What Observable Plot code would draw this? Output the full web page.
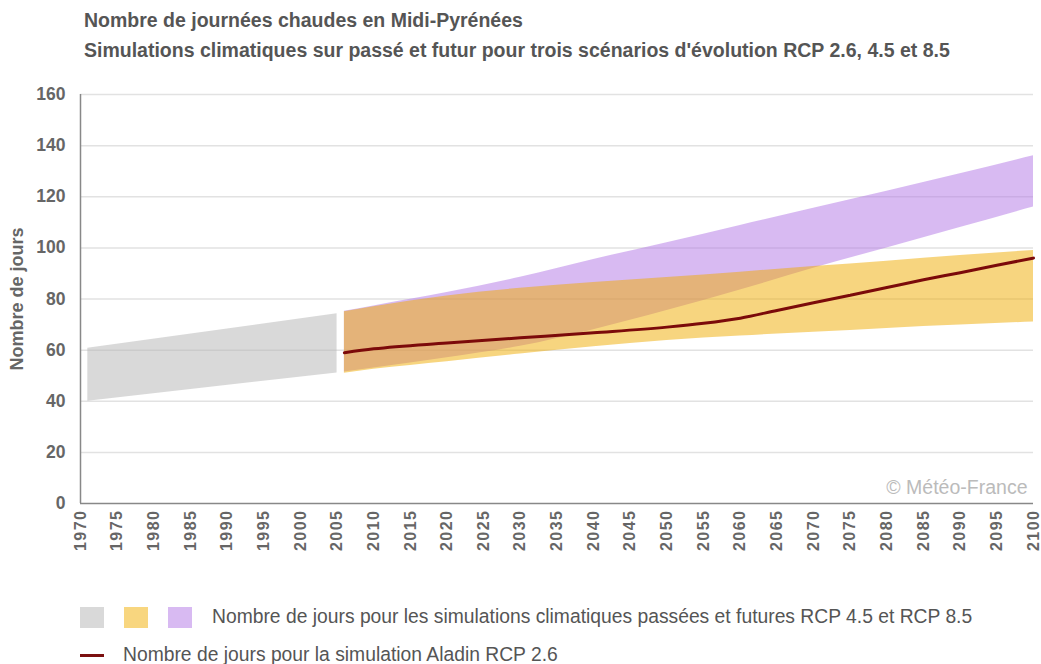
<!DOCTYPE html>
<html>
<head>
<meta charset="utf-8">
<script src="https://cdn.jsdelivr.net/npm/d3@7"></script>
<script src="https://cdn.jsdelivr.net/npm/@observablehq/plot@0.6"></script>
<style>
  html, body { margin: 0; padding: 0; background: #fff; }
  #wrap { position: relative; width: 1041px; height: 664px; font-family: "Liberation Sans", Arial, sans-serif; overflow: hidden; }
  .title { position: absolute; left: 84px; font-weight: bold; font-size: 19.5px; line-height: 22px; color: #555; white-space: nowrap; }
  #chart { position: absolute; left: 0; top: 80px; }
  .leg { position: absolute; font-size: 19.3px; line-height: 22px; color: #555; white-space: nowrap; }
  .sw { position: absolute; width: 24px; height: 21px; }
  #chart g[aria-label="x-axis tick label"] { font-size: 16px; letter-spacing: 1.5px; }
</style>
</head>
<body>
<div id="wrap">
  <div class="title" style="top:9px">Nombre de journées chaudes en Midi-Pyrénées</div>
  <div class="title" style="top:39px">Simulations climatiques sur passé et futur pour trois scénarios d'évolution RCP 2.6, 4.5 et 8.5</div>
  <div id="chart"></div>
  <div class="sw" style="left:80px;top:607px;background:#d9d9d9"></div>
  <div class="sw" style="left:124px;top:607px;background:#f8d67f"></div>
  <div class="sw" style="left:168px;top:607px;background:#d8baf2"></div>
  <div class="leg" style="left:212px;top:606px">Nombre de jours pour les simulations climatiques passées et futures RCP 4.5 et RCP 8.5</div>
  <div style="position:absolute;left:80px;top:654px;width:24px;height:3px;background:#7b1010"></div>
  <div class="leg" style="left:123px;top:644px">Nombre de jours pour la simulation Aladin RCP 2.6</div>
</div>
<script>
// Past simulations (grey band)
const pastYears = [1971, 2005];
const pastLow = [40, 51.1];
const pastHigh = [60.7, 74.2];

// Future simulations
const futureYears = [2006, 2010, 2020, 2030, 2040, 2050, 2060, 2070, 2080, 2090, 2100];
const rcp45Low  = [51, 52.5, 55.5, 58.5, 61.3, 63.8, 65.5, 67, 68.5, 69.8, 71];
const rcp45High = [75, 77, 81.2, 84.2, 86.5, 88.4, 90.5, 92.7, 94.8, 97, 99];
const rcp85Low  = [51.4, 53, 57, 61.5, 68, 75.5, 83.5, 92, 100, 108, 116];
const rcp85High = [75.2, 77.3, 82.5, 88.5, 95.5, 102, 108.8, 115.5, 122.2, 129, 136];

// Aladin RCP 2.6
const aladinYears  = [2006, 2010, 2020, 2030, 2040, 2050, 2055, 2060, 2065, 2070, 2075, 2080, 2085, 2090, 2095, 2100];
const aladinValues = [59, 60.5, 62.8, 64.8, 66.8, 69, 70.5, 72.5, 75.5, 78.5, 81.5, 84.5, 87.5, 90.3, 93.2, 96];

const yTicks = [0, 20, 40, 60, 80, 100, 120, 140, 160];
const xTicks = d3.range(1970, 2101, 5);

const past = pastYears.map((year, i) => ({year, low: pastLow[i], high: pastHigh[i]}));
const r45 = futureYears.map((year, i) => ({year, low: rcp45Low[i], high: rcp45High[i]}));
const r85 = futureYears.map((year, i) => ({year, low: rcp85Low[i], high: rcp85High[i]}));
const aladin = aladinYears.map((year, i) => ({year, value: aladinValues[i]}));

const chart = Plot.plot({
  width: 1041,
  height: 473,
  marginLeft: 80,
  marginRight: 8,
  marginTop: 14,
  marginBottom: 50,
  style: {fontFamily: '"Liberation Sans", Arial, sans-serif', fontWeight: "bold", fontSize: "17.5px", color: "#666", background: "#fff"},
  x: {domain: [1970, 2100]},
  y: {domain: [0, 160]},
  marks: [
    Plot.ruleY(yTicks.filter(d => d > 0), {stroke: "#e2e2e2", strokeWidth: 1.5}),
    Plot.areaY(past, {x: "year", y1: "low", y2: "high", fill: "#b3b3b3", fillOpacity: 0.5}),
    Plot.areaY(r85, {x: "year", y1: "low", y2: "high", fill: "#b175e5", fillOpacity: 0.5, curve: "monotone-x"}),
    Plot.areaY(r45, {x: "year", y1: "low", y2: "high", fill: "#efab00", fillOpacity: 0.5, curve: "monotone-x"}),
    Plot.line(aladin, {x: "year", y: "value", stroke: "#7b0a0a", strokeWidth: 3, curve: "monotone-x"}),
    Plot.axisY({ticks: yTicks, tickSize: 0, tickPadding: 15, label: null}),
    Plot.axisX({ticks: xTicks, tickFormat: d => String(d), tickRotate: -90, tickSize: 0, tickPadding: 6, label: null}),
    Plot.ruleX([1970], {stroke: "#888", strokeWidth: 1.5}),
    Plot.ruleY([0], {stroke: "#888", strokeWidth: 1.5}),
    Plot.text(["Nombre de jours"], {frameAnchor: "left", textAnchor: "middle", rotate: -90, dx: -63, fill: "#666", fontSize: 18, letterSpacing: "2.6px"}),
    Plot.text(["© Météo-France"], {frameAnchor: "bottom-right", dx: -6, dy: -10, fill: "#bbb", fontSize: 19.5, fontWeight: "normal"})
  ]
});
document.getElementById("chart").appendChild(chart);
</script>
</body>
</html>
